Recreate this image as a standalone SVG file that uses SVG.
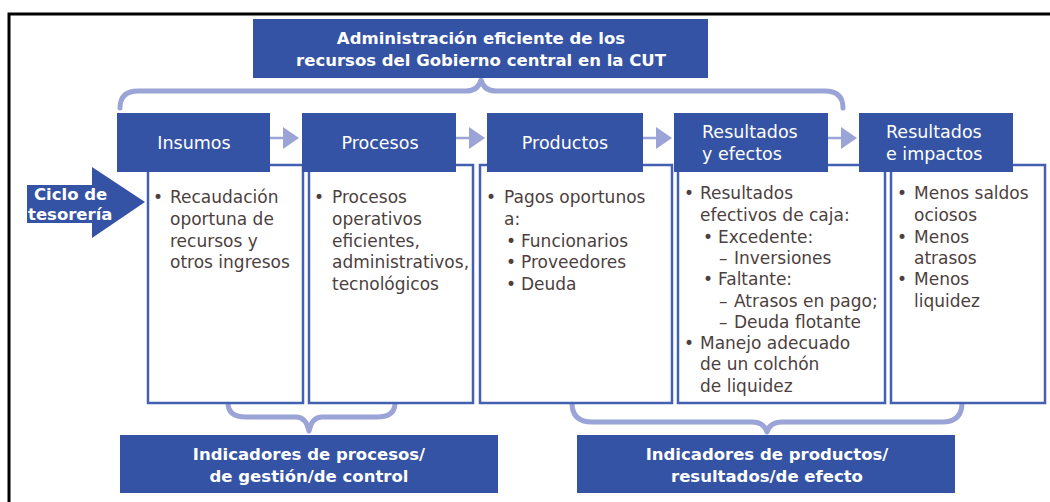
<svg xmlns="http://www.w3.org/2000/svg" width="1050" height="502" viewBox="0 0 1050 502">
<style>
.hdr{fill:#3553A4}
.cbox{fill:#fff;stroke:#4460B0;stroke-width:2.5}
.brace{fill:none;stroke:#9AA4D6;stroke-width:5;stroke-linecap:round;stroke-linejoin:round}
.conn{stroke:#9AA4D6;stroke-width:2.5}
.ah{fill:#9AA4D6}
.wb{font-family:"DejaVu Sans","Open Sans",sans-serif;font-weight:700;font-size:16.5px;fill:#fff}
.wh{font-family:"DejaVu Sans","Open Sans",sans-serif;font-size:17.5px;fill:#fff}
.tx{font-family:"DejaVu Sans","Open Sans",sans-serif;font-size:17px;fill:#4d3f40}
</style>
<rect x="9" y="14" width="1100" height="600" fill="none" stroke="#000" stroke-width="3"/>

<g id="connectors">
  <path class="brace" d="M120,108 Q120,91 138,91 L466,91 Q478,91 481,80 Q484,91 496,91 L825,91 Q843,91 843,108"/>
  <path class="brace" d="M228,403 Q228,417 246,417 L296,417 Q306,417 309,431 Q312,417 322,417 L377,417 Q395,417 395,403"/>
  <path class="brace" d="M572,403 Q572,422 592,422 L752,422 Q764,422 767,432 Q770,422 782,422 L942,422 Q962,422 962,403"/>
  <line class="conn" x1="270" y1="138" x2="284" y2="138"/>
  <polygon class="ah" points="283,127 299,138 283,149"/>
  <line class="conn" x1="456" y1="138" x2="470" y2="138"/>
  <polygon class="ah" points="469,127 485,138 469,149"/>
  <line class="conn" x1="643" y1="138" x2="657" y2="138"/>
  <polygon class="ah" points="656,127 672,138 656,149"/>
  <line class="conn" x1="828" y1="138" x2="842" y2="138"/>
  <polygon class="ah" points="841,127 857,138 841,149"/>
</g>

<g id="title">
  <rect class="hdr" x="253" y="19" width="455" height="59"/>
  <text class="wb" x="481" y="44" text-anchor="middle">Administración eficiente de los</text>
  <text class="wb" x="481" y="66" text-anchor="middle">recursos del Gobierno central en la CUT</text>
</g>

<g id="ciclo">
  <rect class="hdr" x="27" y="185" width="67" height="38"/>
  <polygon class="hdr" points="92,167 145,202 92,238"/>
  <text class="wb" x="34" y="200">Ciclo de</text>
  <text class="wb" x="28" y="220">tesorería</text>
</g>

<g id="insumos">
  <rect class="cbox" x="148" y="165" width="155" height="238"/>
  <rect class="hdr" x="117" y="113" width="153" height="59"/>
  <text class="wh" x="194" y="149" text-anchor="middle">Insumos</text>
  <text class="tx"><tspan x="153" y="203">•</tspan><tspan x="170" y="203">Recaudación</tspan><tspan x="170" y="225">oportuna de</tspan><tspan x="170" y="247">recursos y</tspan><tspan x="170" y="268">otros ingresos</tspan></text>
</g>

<g id="procesos">
  <rect class="cbox" x="309" y="165" width="164" height="238"/>
  <rect class="hdr" x="302" y="113" width="154" height="59"/>
  <text class="wh" x="380" y="149" text-anchor="middle">Procesos</text>
  <text class="tx"><tspan x="314" y="203">•</tspan><tspan x="332" y="203">Procesos</tspan><tspan x="332" y="225">operativos</tspan><tspan x="332" y="247">eficientes,</tspan><tspan x="332" y="268">administrativos,</tspan><tspan x="332" y="290">tecnológicos</tspan></text>
</g>

<g id="productos">
  <rect class="cbox" x="480" y="165" width="192" height="238"/>
  <rect class="hdr" x="487" y="113" width="156" height="59"/>
  <text class="wh" x="565" y="149" text-anchor="middle">Productos</text>
  <text class="tx"><tspan x="486" y="203">•</tspan><tspan x="504" y="203">Pagos oportunos</tspan><tspan x="504" y="225">a:</tspan><tspan x="506" y="247">•</tspan><tspan x="521" y="247">Funcionarios</tspan><tspan x="506" y="268">•</tspan><tspan x="521" y="268">Proveedores</tspan><tspan x="506" y="290">•</tspan><tspan x="521" y="290">Deuda</tspan></text>
</g>

<g id="resultados-efectos">
  <rect class="cbox" x="678" y="165" width="207" height="238"/>
  <rect class="hdr" x="674" y="113" width="154" height="59"/>
  <text class="wh"><tspan x="702" y="138">Resultados</tspan><tspan x="702" y="160">y efectos</tspan></text>
  <text class="tx"><tspan x="684" y="199">•</tspan><tspan x="700" y="199">Resultados</tspan><tspan x="700" y="221">efectivos de caja:</tspan><tspan x="703" y="243">•</tspan><tspan x="718" y="243">Excedente:</tspan><tspan x="719" y="264">–</tspan><tspan x="734" y="264">Inversiones</tspan><tspan x="703" y="285">•</tspan><tspan x="718" y="285">Faltante:</tspan><tspan x="719" y="307">–</tspan><tspan x="734" y="307">Atrasos en pago;</tspan><tspan x="719" y="328">–</tspan><tspan x="734" y="328">Deuda flotante</tspan><tspan x="684" y="349">•</tspan><tspan x="700" y="349">Manejo adecuado</tspan><tspan x="700" y="370">de un colchón</tspan><tspan x="700" y="392">de liquidez</tspan></text>
</g>

<g id="resultados-impactos">
  <rect class="cbox" x="891" y="165" width="154" height="238"/>
  <rect class="hdr" x="859" y="113" width="154" height="59"/>
  <text class="wh"><tspan x="886" y="138">Resultados</tspan><tspan x="886" y="160">e impactos</tspan></text>
  <text class="tx"><tspan x="897" y="199">•</tspan><tspan x="914" y="199">Menos saldos</tspan><tspan x="914" y="221">ociosos</tspan><tspan x="897" y="243">•</tspan><tspan x="914" y="243">Menos</tspan><tspan x="914" y="264">atrasos</tspan><tspan x="897" y="285">•</tspan><tspan x="914" y="285">Menos</tspan><tspan x="914" y="307">liquidez</tspan></text>
</g>

<g id="ind-procesos">
  <rect class="hdr" x="120" y="435" width="378" height="58"/>
  <text class="wb" x="309" y="460" text-anchor="middle">Indicadores de procesos/</text>
  <text class="wb" x="309" y="482" text-anchor="middle">de gestión/de control</text>
</g>

<g id="ind-productos">
  <rect class="hdr" x="577" y="435" width="378" height="58"/>
  <text class="wb" x="767" y="460" text-anchor="middle">Indicadores de productos/</text>
  <text class="wb" x="767" y="482" text-anchor="middle">resultados/de efecto</text>
</g>
</svg>
